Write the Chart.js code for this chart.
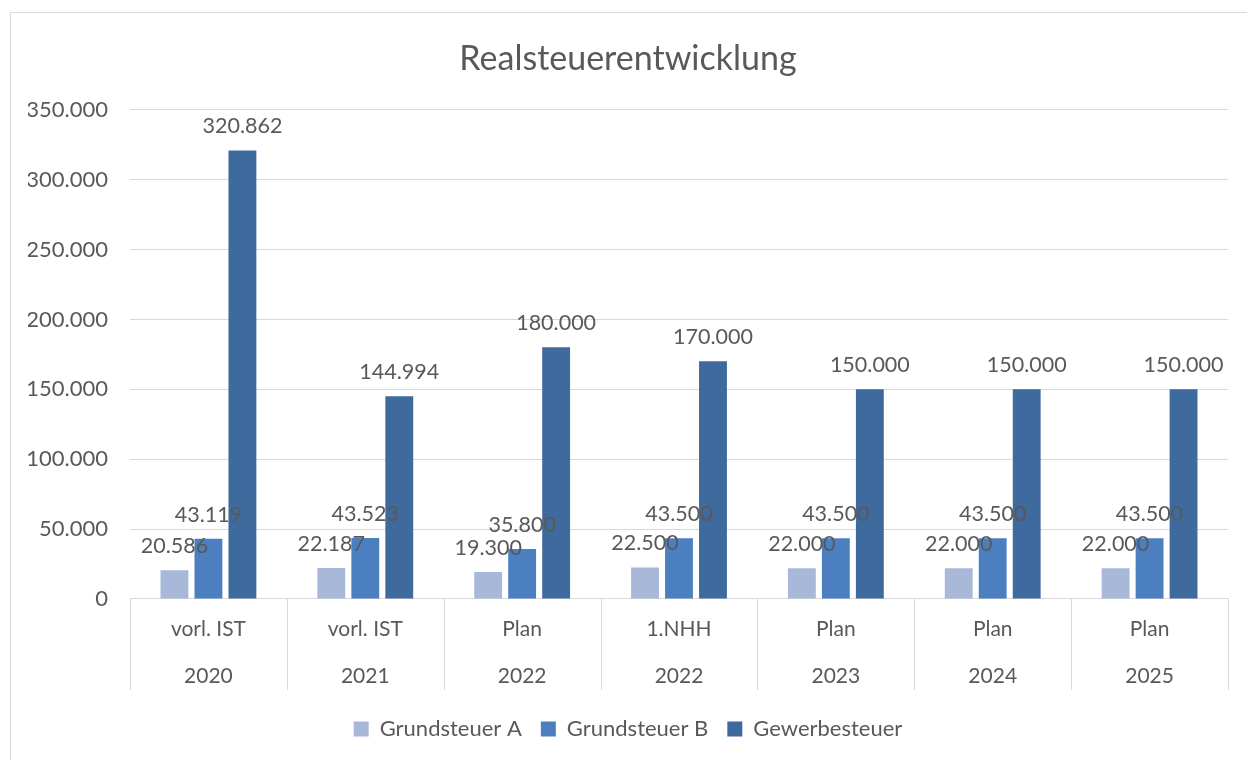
<!DOCTYPE html>
<html>
<head>
<meta charset="utf-8">
<script src="https://cdn.jsdelivr.net/npm/chart.js@4"></script>
<style>
  html, body { margin: 0; padding: 0; background: #ffffff; }
  #frame {
    position: absolute; left: 10px; top: 12px; width: 1250px; height: 760px;
    border: 1px solid #d9d9d9; box-sizing: border-box;
  }
  #wrap { position: absolute; left: 0; top: 0; width: 1247px; height: 760px; }
</style>
</head>
<body>
<div id="frame"></div>
<div id="wrap"><canvas id="chart"></canvas></div>
<script>
const categories = [
  ["vorl. IST", "2020"],
  ["vorl. IST", "2021"],
  ["Plan", "2022"],
  ["1.NHH", "2022"],
  ["Plan", "2023"],
  ["Plan", "2024"],
  ["Plan", "2025"]
];
const grundsteuerA = [20586, 22187, 19300, 22500, 22000, 22000, 22000];
const grundsteuerB = [43119, 43523, 35800, 43500, 43500, 43500, 43500];
const gewerbesteuer = [320862, 144994, 180000, 170000, 150000, 150000, 150000];
const yTicks = { max: 350000, step: 50000 };

const textColor = "#595959";
const gridColor = "#d9d9d9";
const fontFamily = "Lato, 'Open Sans', sans-serif";

function fmt(value) {
  return String(Math.round(value)).replace(/\B(?=(\d{3})+(?!\d))/g, ".");
}

const valueLabels = {
  id: "valueLabels",
  afterDatasetsDraw(chart) {
    const ctx = chart.ctx;
    ctx.save();
    ctx.font = `21.5px ${fontFamily}`;
    ctx.fillStyle = textColor;
    ctx.textAlign = "center";
    ctx.textBaseline = "middle";
    chart.data.datasets.forEach((ds, i) => {
      chart.getDatasetMeta(i).data.forEach((bar, j) => {
        ctx.fillText(fmt(ds.data[j]), bar.x, bar.y - 24);
      });
    });
    ctx.restore();
  }
};

// category separators below the axis (Excel style multi-level axis)
const categoryDividers = {
  id: "categoryDividers",
  afterDraw(chart) {
    const x = chart.scales.x;
    const ctx = chart.ctx;
    const n = chart.data.labels.length;
    const half = (x.getPixelForValue(1) - x.getPixelForValue(0)) / 2;
    ctx.save();
    ctx.strokeStyle = gridColor;
    ctx.lineWidth = 1;
    ctx.beginPath();
    for (let i = 0; i <= n; i++) {
      const px = Math.round(x.getPixelForValue(0) - half + i * half * 2) + 0.5;
      ctx.moveTo(px, x.top);
      ctx.lineTo(px, x.top + 91);
    }
    ctx.stroke();
    ctx.restore();
  }
};

new Chart(document.getElementById("chart"), {
  type: "bar",
  data: {
    labels: categories,
    datasets: [
      { label: "Grundsteuer A", data: grundsteuerA, backgroundColor: "#a7b8d9" },
      { label: "Grundsteuer B", data: grundsteuerB, backgroundColor: "#4b7fc0" },
      { label: "Gewerbesteuer", data: gewerbesteuer, backgroundColor: "#3e6a9d" }
    ]
  },
  options: {
    responsive: true,
    maintainAspectRatio: false,
    animation: false,
    datasets: {
      bar: { categoryPercentage: 0.65, barPercentage: 0.82 }
    },
    layout: { padding: { left: 28, right: 19, top: 39, bottom: 10 } },
    plugins: {
      title: {
        display: true,
        text: "Realsteuerentwicklung",
        color: textColor,
        font: { family: fontFamily, size: 34, weight: "normal" },
        padding: { top: 0, bottom: 30 }
      },
      legend: {
        position: "bottom",
        labels: {
          color: textColor,
          font: { family: fontFamily, size: 22 },
          boxWidth: 15,
          boxHeight: 15,
          padding: 19
        }
      },
      tooltip: { enabled: false }
    },
    scales: {
      x: {
        grid: { display: false },
        border: { display: true, color: gridColor },
        ticks: {
          color: textColor,
          padding: -1,
          maxRotation: 0,
          font: { family: fontFamily, size: 21, lineHeight: 2.24 }
        }
      },
      y: {
        min: 0,
        max: yTicks.max,
        afterFit(scale) { scale.width = 102; },
        grid: { color: gridColor, drawTicks: false },
        border: { display: false },
        ticks: {
          stepSize: yTicks.step,
          color: textColor,
          padding: 22,
          font: { family: fontFamily, size: 22 },
          callback: (v) => fmt(v)
        }
      }
    }
  },
  plugins: [valueLabels, categoryDividers]
});
</script>
</body>
</html>
